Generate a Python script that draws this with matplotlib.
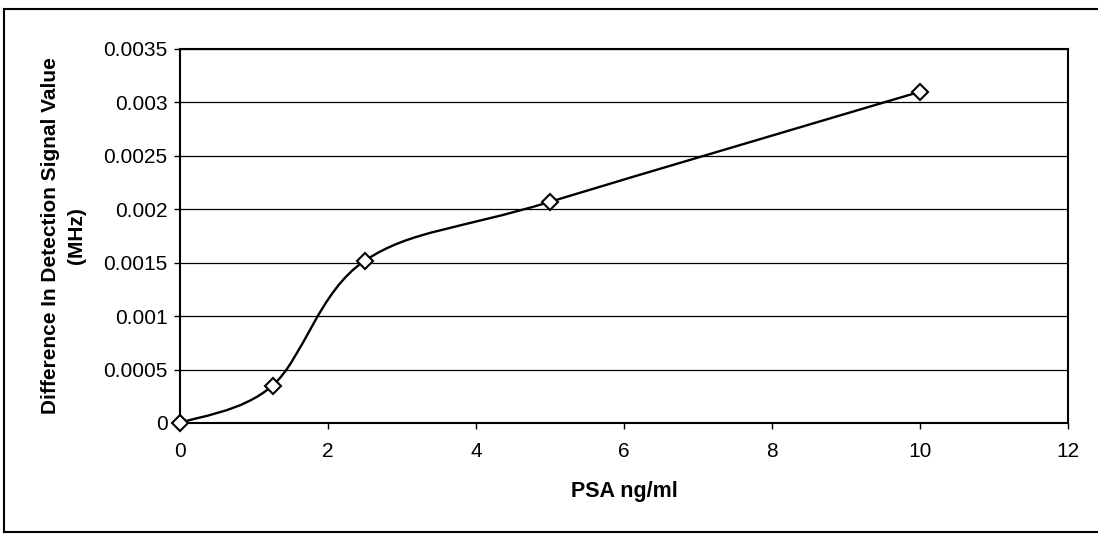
import numpy as np
import matplotlib
matplotlib.use("Agg")
import matplotlib.pyplot as plt
from matplotlib.path import Path
from matplotlib.patches import PathPatch
from matplotlib.lines import Line2D

# data
psa = [0, 1.25, 2.5, 5, 10]
signal = [0, 0.00035, 0.00152, 0.00207, 0.0031]

x_ticks = [0, 2, 4, 6, 8, 10, 12]
y_ticks = [0, 0.0005, 0.001, 0.0015, 0.002, 0.0025, 0.003, 0.0035]
y_tick_labels = ["0", "0.0005", "0.001", "0.0015", "0.002", "0.0025", "0.003", "0.0035"]

plt.rcParams['font.family'] = ['Liberation Sans', 'DejaVu Sans']

fig = plt.figure(figsize=(10.98, 5.37), dpi=100)
W, H = 1098, 537
ax = fig.add_axes([180 / W, 1 - 423 / H, 888 / W, 374 / H])

# outer chart border (right side runs off the scan)
for xs, ys in [([4, 4], [9, 532]), ([4, 1110], [9, 9]), ([4, 1110], [532, 532])]:
    fig.add_artist(Line2D([v / W for v in xs], [1 - v / H for v in ys],
                          color="black", lw=1.5))

ax.set_xlim(0, 12)
ax.set_ylim(0, 0.0035)
ax.set_xticks(x_ticks)
ax.set_yticks(y_ticks)
ax.set_yticklabels(y_tick_labels)
ax.tick_params(axis="both", labelsize=15, direction="out", length=4, width=1, color="black")
ax.tick_params(axis="x", pad=10)
ax.tick_params(axis="y", pad=5)
ax.yaxis.grid(True, color="black", lw=0.9)
ax.set_axisbelow(True)
for s in ax.spines.values():
    s.set_linewidth(1.5)
    s.set_color("black")

# smoothed line, same as excel's bezier smoothing
pts = np.column_stack([psa, signal])
verts = [pts[0]]
codes = [Path.MOVETO]
n = len(pts)
for i in range(n - 1):
    p0 = pts[max(i - 1, 0)]
    p1 = pts[i]
    p2 = pts[i + 1]
    p3 = pts[min(i + 2, n - 1)]
    c1 = p1 + (p2 - p0) / 6
    c2 = p2 - (p3 - p1) / 6
    verts += [c1, c2, p2]
    codes += [Path.CURVE4] * 3
ax.add_patch(PathPatch(Path(verts, codes), fill=False, color="black", lw=1.7))

ax.plot(psa, signal, linestyle="none", marker="D", markersize=8.5,
        markerfacecolor="white", markeredgecolor="black", markeredgewidth=1.5, zorder=5,
        clip_on=False)

ax.set_xlabel("PSA ng/ml", fontsize=15.5, fontweight="bold", labelpad=14)
ax.set_ylabel("Difference In Detection Signal Value\n(MHz)", fontsize=15,
              fontweight="bold", labelpad=12, linespacing=1.5)

fig.savefig("out.png", dpi=100)
